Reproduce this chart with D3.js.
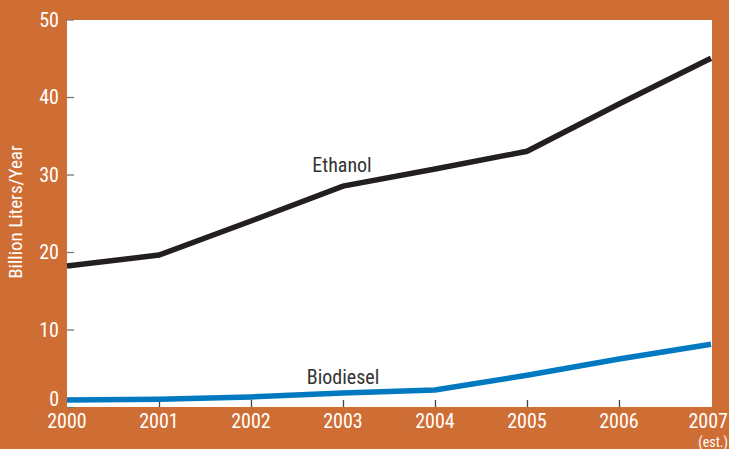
<!DOCTYPE html>
<html><head><meta charset="utf-8">
<script src="https://cdn.jsdelivr.net/npm/d3@7"></script>
<style>
html,body{margin:0;padding:0;background:#CF6E34;}
svg{display:block;}
text{font-family:"Liberation Sans Narrow","Roboto Condensed","Liberation Sans",sans-serif;}
</style></head>
<body>
<svg id="c" width="729" height="449"></svg>
<script>
const years = [2000, 2001, 2002, 2003, 2004, 2005, 2006, 2007];
const xTickLabels = ["2000","2001","2002","2003","2004","2005","2006","2007"];
const ethanol = [18.2, 19.6, 24.0, 28.5, 30.7, 33.0, 39.1, 45.0];
const biodiesel = [0.9, 1.0, 1.3, 1.8, 2.2, 4.1, 6.2, 8.1];
const yTicks = [0, 10, 20, 30, 40, 50];
const seriesNames = ["Ethanol", "Biodiesel"];

const svg = d3.select("#c");
const W = 729, H = 449;
svg.append("rect").attr("width", W).attr("height", H).attr("fill", "#CF6E34");

const x = d3.scaleLinear().domain([2000, 2007]).range([67, 711]);
const y = d3.scaleLinear().domain([0, 50]).range([407, 19.5]);

// plot area
svg.append("rect").attr("x", 67).attr("y", 20).attr("width", 645).attr("height", 387).attr("fill", "#fff");

// y ticks (inside)
const yAxis = d3.axisRight(y).tickValues(yTicks).tickSize(7).tickFormat("");
const gy = svg.append("g").attr("transform", "translate(67,0)").call(yAxis);
gy.select(".domain").remove();
gy.selectAll(".tick line").attr("stroke", "#777").attr("stroke-width", 1.3);

// y tick labels
svg.append("g").selectAll("text").data(yTicks).join("text")
  .attr("x", 59).attr("y", d => d === 0 ? y(d) - 1 : y(d) + 7)
  .attr("text-anchor", "end").attr("fill", "#fff").attr("font-size", 20)
  .text(d => d);

// x ticks (inside, upward)
const xAxis = d3.axisTop(x).tickValues(years.slice(1, 7)).tickSize(7).tickFormat("");
const gx = svg.append("g").attr("transform", "translate(0,407)").call(xAxis);
gx.select(".domain").remove();
gx.selectAll(".tick line").attr("stroke", "#444").attr("stroke-width", 1.3);

// x tick labels
svg.append("g").selectAll("text").data(years).join("text")
  .attr("x", (d, i) => i === years.length - 1 ? 728 : x(d))
  .attr("y", 428)
  .attr("text-anchor", (d, i) => i === years.length - 1 ? "end" : "middle")
  .attr("fill", "#fff").attr("font-size", 20)
  .text((d, i) => xTickLabels[i]);
svg.append("text").attr("x", 728).attr("y", 447).attr("text-anchor", "end")
  .attr("fill", "#fff").attr("font-size", 14).text("(est.)");

// y axis title
svg.append("text").attr("transform", "translate(22,212) rotate(-90)")
  .attr("text-anchor", "middle").attr("fill", "#fff").attr("font-size", 19)
  .text("Billion Liters/Year");

// lines
const line = d3.line().x((d, i) => x(years[i])).y(d => y(d));
svg.append("path").datum(biodiesel).attr("d", line).attr("fill", "none")
  .attr("stroke", "#0079C1").attr("stroke-width", 5.5).attr("stroke-linejoin", "round");
svg.append("path").datum(ethanol).attr("d", line).attr("fill", "none")
  .attr("stroke", "#231F20").attr("stroke-width", 5.5).attr("stroke-linejoin", "miter");

// series labels
svg.append("text").attr("x", 342).attr("y", 172).attr("text-anchor", "middle")
  .attr("fill", "#333").attr("font-size", 20).text(seriesNames[0]);
svg.append("text").attr("x", 343).attr("y", 384).attr("text-anchor", "middle")
  .attr("fill", "#333").attr("font-size", 20).text(seriesNames[1]);
</script>
</body></html>
